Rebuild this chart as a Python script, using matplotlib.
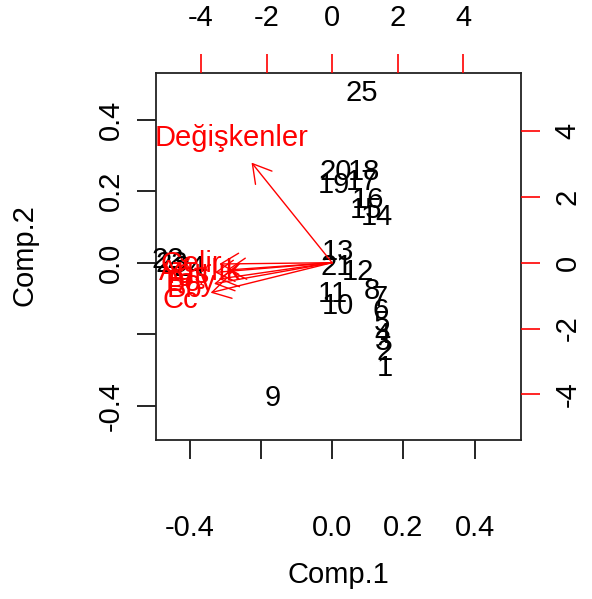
import matplotlib
matplotlib.use("Agg")
import matplotlib.pyplot as plt

plt.rcParams['font.family'] = ['Liberation Sans', 'DejaVu Sans']

# Scores (Comp.1, Comp.2) for observations 1..25
obs_labels = [str(i) for i in range(1, 26)]
comp1 = [0.149, 0.146, 0.143, 0.140, 0.140, 0.137, 0.132, 0.112, -0.168, 0.017,
         0.003, 0.073, 0.017, 0.126, 0.095, 0.101, 0.084, 0.090, 0.006, 0.011,
         0.012, -0.462, -0.450, -0.400, 0.084]
comp2 = [-0.294, -0.250, -0.222, -0.202, -0.169, -0.135, -0.099, -0.079, -0.378, -0.122,
         -0.088, -0.026, 0.030, 0.127, 0.147, 0.175, 0.225, 0.253, 0.217, 0.253,
         -0.012, 0.008, -0.004, -0.015, 0.474]

# Variable loadings
var_labels = ["Değişkenler", "Gelir", "Ağırlık", "Yaş", "Boy", "Bb", "Cc"]
load1 = [-3.07, -4.30, -4.02, -4.47, -4.32, -4.50, -4.63]
load2 = [3.80, -0.05, -0.28, -0.37, -0.62, -0.80, -1.14]

score_ticks = [-0.4, -0.2, 0.0, 0.2, 0.4]
score_ticklabels = ["-0.4", "", "0.0", "0.2", "0.4"]
load_ticks = [-4, -2, 0, 2, 4]
load_ticklabels = ["-4", "-2", "0", "2", "4"]

lim = (-0.494, 0.530)
ratio = 10.87

fs = 21
fig = plt.figure(figsize=(5.92, 5.99), dpi=100)
pos = [156/592, 1 - 439.5/599, (521-156)/592, (439.5-73)/599]
ax = fig.add_axes(pos)
ax.set_xlim(lim)
ax.set_ylim(lim)
for lab, x, y in zip(obs_labels, comp1, comp2):
    ax.text(x, y, lab, ha='center', va='center', fontsize=fs, color='black')
ax.set_xticks(score_ticks)
ax.set_xticklabels(score_ticklabels)
ax.set_yticks(score_ticks)
ax.set_yticklabels(score_ticklabels, rotation=90, va='center')
ax.tick_params(axis='x', direction='out', length=13.5, width=1.2, labelsize=fs, pad=40, colors='black')
ax.tick_params(axis='y', direction='out', length=13.5, width=1.2, labelsize=fs, pad=9, colors='black')
for s in ax.spines.values():
    s.set_linewidth(1.3)
    s.set_color('#222222')

ax2 = fig.add_axes(pos, frameon=False)
ax2.set_xlim(lim[0]*ratio, lim[1]*ratio)
ax2.set_ylim(lim[0]*ratio, lim[1]*ratio)
ax2.xaxis.tick_top()
ax2.yaxis.tick_right()
ax2.set_xticks(load_ticks)
ax2.set_xticklabels(load_ticklabels)
ax2.set_yticks(load_ticks)
ax2.set_yticklabels(load_ticklabels, rotation=90, va='center')
ax2.tick_params(axis='x', direction='out', length=13.5, width=1.2, labelsize=fs, pad=16, color='red', labelcolor='black')
ax2.tick_params(axis='y', direction='out', length=13.5, width=1.2, labelsize=fs, pad=10, color='red', labelcolor='black')

for lab, x, y in zip(var_labels, load1, load2):
    ax2.annotate('', xy=(0.8*x, 0.8*y), xytext=(0, 0),
                 arrowprops=dict(arrowstyle='->,head_length=0.65,head_width=0.38',
                                 color='red', lw=1.0, shrinkA=0, shrinkB=0,
                                 mutation_scale=20))
    ax2.text(x, y, lab, ha='center', va='center', fontsize=fs, color='red')

fig.text(338/592, 1 - 575/599, "Comp.1", ha='center', va='center', fontsize=fs)
fig.text(25/592, 1 - 255/599, "Comp.2", ha='center', va='center', fontsize=fs, rotation=90)

fig.savefig("out.png", dpi=100)
